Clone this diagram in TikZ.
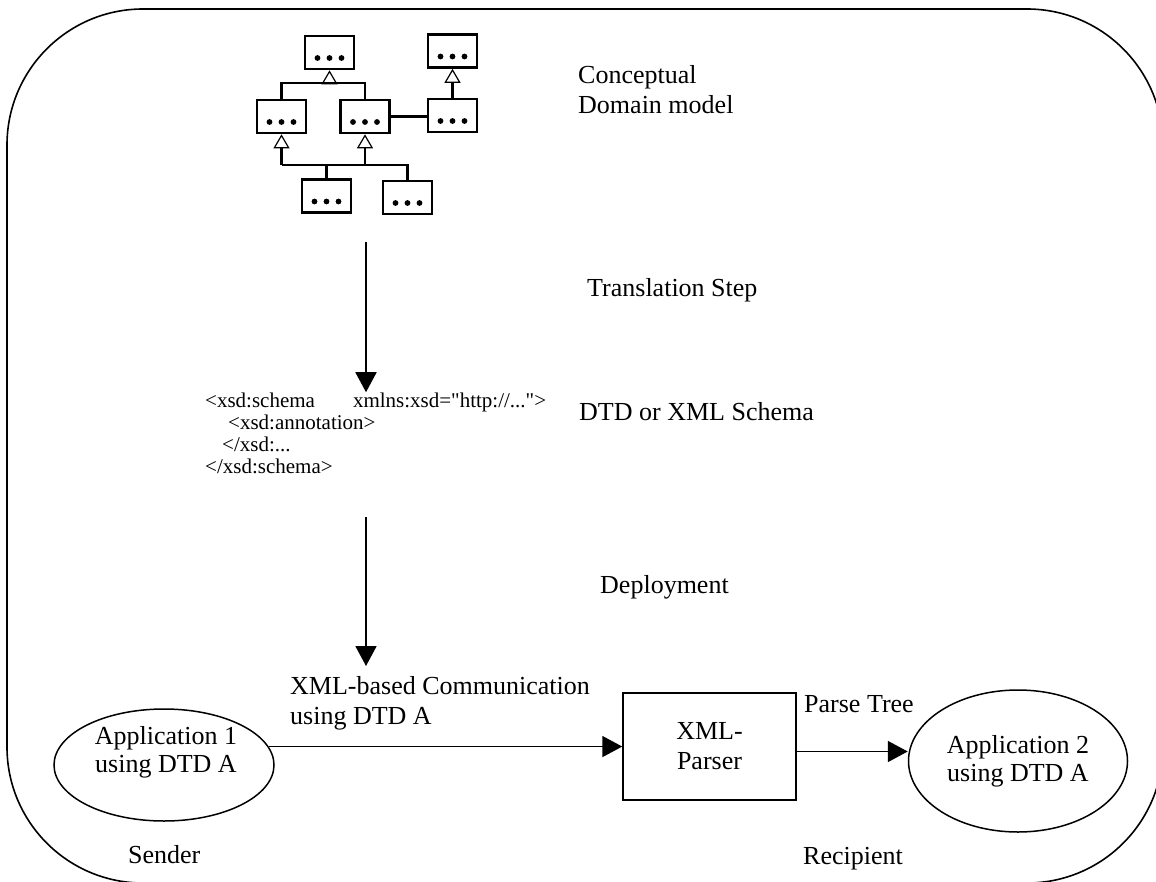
\documentclass[tikz,border=0pt]{standalone}
\usepackage{fontspec}
\setmainfont{Liberation Serif}
\usetikzlibrary{positioning, arrows.meta, shapes.geometric}
% plain font (no TeX mapping) so that " stays straight
\font\xsdfont="Liberation Serif" at 21pt

\begin{document}
\begin{tikzpicture}[x=1pt, y=-1pt,
    cls/.style={draw, line width=2.6pt, minimum width=49pt, minimum height=33pt, inner sep=0pt},
    gen/.style={-{Triangle[open, length=14pt, width=16pt, line width=1.2pt]}, line width=2.2pt},
    link/.style={line width=2.2pt},
    arr/.style={-{Triangle[length=20pt, width=21pt]}, line width=1.8pt},
    lbl/.style={font=\fontsize{26}{30}\selectfont, inner sep=0pt, align=left},
    code/.style={font=\fontsize{21}{22}\selectfont\xsdfont, inner sep=0pt, align=left},
    app/.style={draw, ellipse, line width=1.5pt, inner sep=0pt, align=center,
                font=\fontsize{26}{28}\selectfont},
    apptext/.style={align=center, inner sep=0pt, font=\fontsize{26}{28}\selectfont},
    parserbox/.style={draw, line width=1.5pt, minimum width=173pt, minimum height=107pt,
                inner sep=0pt, align=center, font=\fontsize{26}{30}\selectfont},
  ]
  \useasboundingbox (0,0) rectangle (1156,881);
  \clip (0,0) rectangle (1156,881);

  % outer frame
  \draw[line width=1.6pt, rounded corners=136pt] (7,9) rectangle (1163,883);

  % domain model classes
  \node[cls] (A) at (329.5,52.5) {};
  \node[cls] (B) at (452.5,51) {};
  \node[cls] (C) at (281.5,116.5) {};
  \node[cls] (D) at (365,116.5) {};
  \node[cls] (E) at (452.5,115.5) {};
  \node[cls] (F) at (326.5,196) {};
  \node[cls] (G) at (407.5,197.5) {};
  \foreach \b in {A,B,C,D,E,F,G}
    \foreach \dx in {-12,0,12}
      \fill ([xshift=\dx pt, yshift=-5.5pt]\b.center) circle (2.9pt);

  % inheritance and association lines
  \coordinate (jA) at (329.5,83);
  \coordinate (jB) at (0,165);
  \draw[link] (C.north) |- (jA) -| (D.north);
  \draw[gen] (jA) -- (A.south);
  \draw[gen] (E.north) -- (B.south);
  \draw[link] (D.east) -- (D.east -| E.west);
  \draw[link] (C.south |- jB) -- (G.north |- jB) -- (G.north);
  \draw[link] (F.north |- jB) -- (F.north);
  \draw[gen] (C.south |- jB) -- (C.south);
  \draw[gen] (D.south |- jB) -- (D.south);

  % step labels
  \node[lbl, anchor=base west] (concept) at (578,113) {Conceptual\\Domain model};
  \node[lbl, anchor=base west] (transl) at (587,296) {Translation Step};
  \node[lbl, anchor=base west] (dtd) at (579,420) {DTD or XML Schema};
  \node[lbl, anchor=base west] (deploy) at (600,593) {Deployment};

  % schema excerpt
  \node[code, anchor=base west] (xsd) at (205,473)
    {<xsd:schema\hspace*{38pt}xmlns:xsd="http://...">\\
     \hspace*{23pt}<xsd:annotation>\\
     \hspace*{17pt}</xsd:...\\
     </xsd:schema>};

  % vertical flow
  \coordinate (s1) at (366,242);
  \coordinate (s2) at (366,517);
  \coordinate (e2) at (366,666);
  \draw[arr] (s1) -- (s1 |- xsd.north);
  \draw[arr] (s2) -- (e2);

  % communication
  \node[app, minimum width=220pt, minimum height=112pt] (app1) at (164,765) {};
  \node[apptext] (app1txt) at (166,752) {Application 1\\using DTD A};
  \node[parserbox] (parser) at (709.5,746.5) {XML-\\Parser};
  \node[app, minimum width=219pt, minimum height=142pt] (app2) at (1018,761)
    {Application 2\\using DTD A};
  \node[lbl, anchor=base west] (comm) at (290,724) {XML-based Communication\\using DTD A};
  \node[lbl, anchor=base west] (ptree) at (804,712) {Parse Tree};
  \node[lbl, anchor=base west] (sender) at (128,863) {Sender};
  \node[lbl, anchor=base west] (recip) at (803,864) {Recipient};

  \draw[arr] (app1.10) -- (app1.10 -| parser.west);
  \draw[arr] ([yshift=-5pt]parser.east) -- ([yshift=-5pt]parser.east -| app2.west);
\end{tikzpicture}
\end{document}
